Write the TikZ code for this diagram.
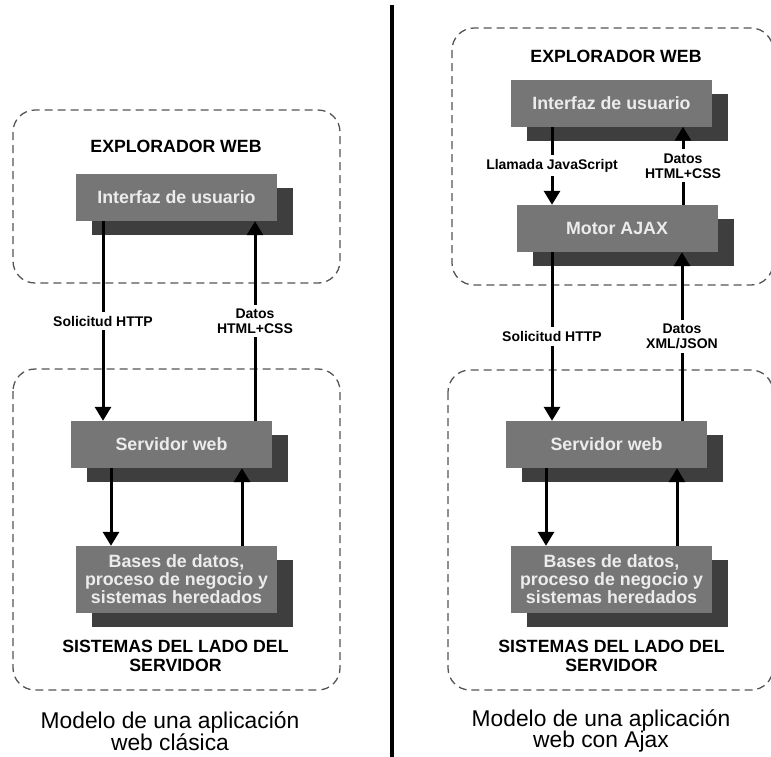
\documentclass[tikz,border=0pt]{standalone}
\usepackage{fontspec}
\setmainfont{Liberation Sans}
\usepackage{tikz}
\usetikzlibrary{arrows.meta,shadows}

\definecolor{capa}{RGB}{118,118,118}
\definecolor{sombra}{RGB}{62,62,62}
\definecolor{textocapa}{RGB}{236,236,236}
\definecolor{borde}{RGB}{85,85,85}

\begin{document}
\begin{tikzpicture}[x=1pt,y=-1pt,
    caja/.style={fill=capa, text=textocapa, font=\fontsize{17.8}{18}\selectfont\bfseries,
      minimum width=201pt, minimum height=47pt, inner sep=0pt, align=center,
      general shadow={fill=sombra, shadow xshift=16pt, shadow yshift=-14pt}},
    zona/.style={draw=borde, line width=1.3pt, dash pattern=on 8pt off 5pt, rounded corners=22pt},
    titulo/.style={font=\fontsize{17.7}{18.5}\selectfont\bfseries, align=center},
    etiqueta/.style={font=\fontsize{14}{15}\selectfont\bfseries, fill=white, align=center,
      inner xsep=2pt, inner ysep=4pt},
    pie/.style={font=\fontsize{22.8}{21.5}\selectfont, align=center},
    flecha/.style={line width=3pt, -{Triangle[width=16pt,length=14pt]}}]
      \clip (0,0) rectangle (771,756);

      % zonas
      \draw[zona] (13,110) rectangle (340,283);
      \draw[zona] (13,369) rectangle (340,690);
      \draw[zona] (452,28) rectangle (773,285);
      \draw[zona] (448,370) rectangle (773,690);
      \draw[line width=4pt] (392,5) -- (392,760);

      % modelo clasico
      \node[titulo] (exploradorA) at (176,146) {EXPLORADOR WEB};
      \node[caja] (interfazA) at (176.5,197.5) {Interfaz de usuario};
      \node[caja] (servidorA) at (171.5,444.5) {Servidor web};
      \node[caja, minimum height=67pt] (basesA) at (176.5,579.5) {Bases de datos,\\proceso de negocio y\\sistemas heredados};
      \node[titulo] (ladoA) at (175.5,656) {SISTEMAS DEL LADO DEL\\SERVIDOR};
      \node[pie] (modeloA) at (170,731) {Modelo de una aplicación\\web clásica};

      \draw[flecha] ([xshift=-73.5pt]interfazA.south) -- ([xshift=-73.5pt]interfazA.south |- servidorA.north)
        node[etiqueta, midway] {Solicitud HTTP};
      \draw[flecha] ([xshift=78.5pt]interfazA.south |- servidorA.north) -- ([xshift=78.5pt]interfazA.south)
        node[etiqueta, midway] {Datos\\HTML+CSS};
      \draw[flecha] ([xshift=-60.5pt]servidorA.south) -- ([xshift=-60.5pt]servidorA.south |- basesA.north) {};
      \draw[flecha] ([xshift=70.5pt]servidorA.south |- basesA.north) -- ([xshift=70.5pt]servidorA.south) {};

      % modelo ajax
      \node[titulo] (exploradorB) at (616,56) {EXPLORADOR WEB};
      \node[caja] (interfazB) at (611.5,103) {Interfaz de usuario};
      \node[caja] (motorB) at (617,228.5) {Motor AJAX};
      \node[caja] (servidorB) at (606.5,444.5) {Servidor web};
      \node[caja, minimum height=67pt] (basesB) at (611.5,579.5) {Bases de datos,\\proceso de negocio y\\sistemas heredados};
      \node[titulo] (ladoB) at (611.5,656) {SISTEMAS DEL LADO DEL\\SERVIDOR};
      \node[pie] (modeloB) at (601,731) {Modelo de una aplicación\\web con Ajax};

      \draw[flecha] ([xshift=-59.5pt]interfazB.south) -- ([xshift=-59.5pt]interfazB.south |- motorB.north)
        node[etiqueta, midway] {Llamada JavaScript};
      \draw[flecha] ([xshift=71.5pt]interfazB.south |- motorB.north) -- ([xshift=71.5pt]interfazB.south)
        node[etiqueta, midway] {Datos\\HTML+CSS};
      \draw[flecha] ([xshift=-65pt]motorB.south) -- ([xshift=-65pt]motorB.south |- servidorB.north)
        node[etiqueta, midway] {Solicitud HTTP};
      \draw[flecha] ([xshift=65pt]motorB.south |- servidorB.north) -- ([xshift=65pt]motorB.south)
        node[etiqueta, midway] {Datos\\XML/JSON};
      \draw[flecha] ([xshift=-60.5pt]servidorB.south) -- ([xshift=-60.5pt]servidorB.south |- basesB.north) {};
      \draw[flecha] ([xshift=70.5pt]servidorB.south |- basesB.north) -- ([xshift=70.5pt]servidorB.south) {};
    \end{tikzpicture}
\end{document}
